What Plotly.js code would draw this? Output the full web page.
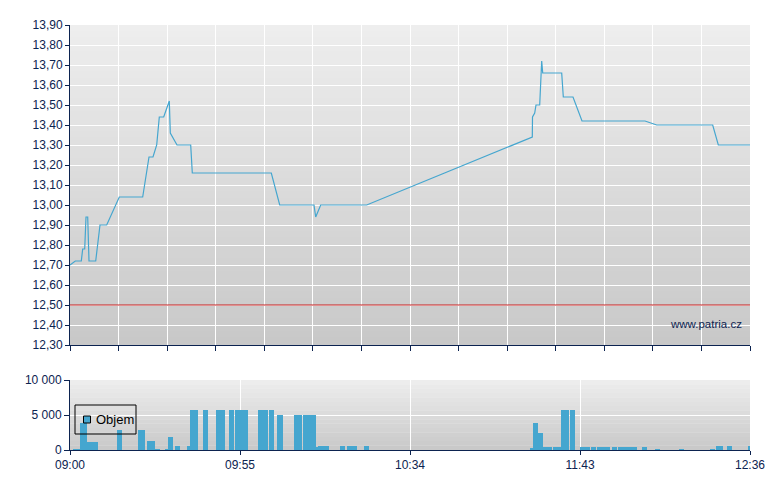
<!DOCTYPE html>
<html>
<head>
<meta charset="utf-8">
<script src="https://cdn.plot.ly/plotly-3.0.1.min.js"></script>
<style>html,body{margin:0;padding:0;background:#fff;}#chart{width:780px;height:490px;}</style>
</head>
<body>
<div id="chart"></div>
<script>
// Session position (non-linear trading time axis, 0..136)
const priceX = [0, 1.06, 2.26, 2.54, 2.94, 3.2, 3.54, 3.8, 5.14, 6.0, 7.34, 9.86, 14.54, 15.8, 16.6, 17.34, 17.86, 18.74, 19.86, 20.06, 21.4, 24.14, 24.46, 40.26, 41.94, 48.8, 49.14, 50.14, 59.34, 92.46, 92.5, 92.94, 93.2, 93.94, 94.34, 94.54, 98.34, 98.66, 100.6, 102.4, 115.0, 117.34, 128.54, 129.66, 136];
const priceY = [12.70, 12.72, 12.72, 12.78, 12.78, 12.94, 12.94, 12.72, 12.72, 12.90, 12.90, 13.04, 13.04, 13.24, 13.24, 13.30, 13.44, 13.44, 13.52, 13.36, 13.30, 13.30, 13.16, 13.16, 13.00, 13.00, 12.94, 13.00, 13.00, 13.34, 13.44, 13.46, 13.50, 13.50, 13.72, 13.66, 13.66, 13.54, 13.54, 13.42, 13.42, 13.40, 13.40, 13.30, 13.30];
const refPrice = 12.50;

const volX = [1.17, 1.5, 2.5, 2.9, 3.9, 4.5, 5.04, 9.9, 14.1, 14.5, 15.9, 16.5, 17.5, 19.5, 20.1, 21.5, 23.8, 24.5, 25.1, 27.1, 29.7, 30.5, 32.3, 33.5, 34.3, 35.1, 38.1, 39.1, 40.3, 41.9, 42.1, 45.3, 45.9, 47.1, 47.9, 48.7, 49.7, 50.1, 50.9, 51.3, 54.5, 55.9, 56.9, 59.3, 92.5, 93.1, 94.1, 94.9, 95.9, 97.1, 97.7, 98.7, 99.3, 100.5, 102.5, 103.5, 104.7, 105.9, 106.9, 107.5, 108.9, 110.1, 111.1, 112.1, 112.9, 114.9, 117.5, 122.3, 128.5, 129.7, 130.1, 131.9, 136];
const volY = [150, 150, 3900, 3900, 1150, 1150, 1150, 2860, 2860, 2860, 1290, 1290, 140, 100, 1860, 570, 570, 5710, 5710, 5710, 5710, 5710, 5710, 5710, 5710, 5710, 5710, 5710, 5710, 5000, 5000, 5000, 5000, 5000, 5000, 5000, 430, 570, 570, 570, 570, 570, 570, 570, 290, 3900, 2480, 430, 430, 430, 430, 5710, 5710, 5710, 430, 430, 430, 430, 430, 430, 430, 430, 430, 430, 430, 430, 140, 140, 140, 570, 570, 570, 570];

const timeTickPos = [0, 34, 68, 102, 136];
const timeTickText = ['09:00', '09:55', '10:34', '11:43', '12:36'];
const volTickVals = [0, 5000, 10000];
const volTickText = ['0', '5 000', '10 000'];
const seriesName = 'Objem';
const watermark = 'www.patria.cz';

const navy = '#0c2350';
const blue = '#45a6cf';
const font = 'Liberation Sans, Arial, sans-serif';

// gradient background bands
const shapes = [];
function gradient(xr, yr, top, bottom, n) {
  for (let i = 0; i < n; i++) {
    const t = (i + 0.5) / n;
    const c = Math.round(top + (bottom - top) * t);
    shapes.push({type: 'rect', xref: xr, yref: yr, x0: 0, x1: 1, y0: 1 - (i + 1) / n, y1: Math.min(1, 1 - i / n + 0.002),
      fillcolor: `rgb(${c},${c},${c})`, line: {width: 0}, layer: 'below'});
  }
}
gradient('x domain', 'y domain', 238, 200, 48);
gradient('x2 domain', 'y2 domain', 238, 200, 16);
// reference price line
shapes.push({type: 'line', xref: 'paper', yref: 'y', x0: 0, x1: 1, y0: refPrice, y1: refPrice,
  line: {color: '#c41e1e', width: 1}, layer: 'above'});
// legend frame and swatch (volume panel)
shapes.push({type: 'rect', xref: 'paper', yref: 'paper', x0: 5 / 680, x1: 66 / 680, y0: 16 / 425, y1: 45 / 425,
  line: {color: '#000', width: 1}, fillcolor: 'rgba(0,0,0,0)', layer: 'above'});
shapes.push({type: 'rect', xref: 'paper', yref: 'paper', x0: 13.5 / 680, x1: 20.5 / 680, y0: 27 / 425, y1: 34 / 425,
  line: {color: '#000', width: 1}, fillcolor: blue, layer: 'above'});

const traces = [
  {type: 'scatter', mode: 'lines', x: priceX, y: priceY, xaxis: 'x', yaxis: 'y',
   line: {color: blue, width: 1.2}, showlegend: false, hoverinfo: 'skip'},
  {type: 'bar', x: volX, y: volY, xaxis: 'x2', yaxis: 'y2', width: 1, name: seriesName,
   marker: {color: blue, line: {width: 0}}, showlegend: false, hoverinfo: 'skip'}
];

const axBase = {showline: true, linecolor: navy, linewidth: 1, ticks: 'outside', tickcolor: navy,
  ticklen: 5, tickwidth: 1, gridcolor: '#ffffff', gridwidth: 1, zeroline: false,
  tickfont: {family: font, size: 11, color: navy}, fixedrange: true};

const layout = {
  width: 780, height: 490,
  margin: {l: 70, r: 30, t: 25, b: 40},
  paper_bgcolor: '#ffffff', plot_bgcolor: 'rgba(0,0,0,0)',
  separators: ', ',
  font: {family: font, color: navy},
  showlegend: false,
  bargap: 0,
  xaxis: Object.assign({}, axBase, {range: [0, 136], anchor: 'y', tickmode: 'linear', tick0: 0, dtick: 136 / 14,
    showticklabels: false}),
  yaxis: Object.assign({}, axBase, {domain: [1 - 320 / 425, 1], range: [12.30, 13.90], tickmode: 'linear',
    tick0: 12.30, dtick: 0.1, tickformat: '.2f', ticklen: 4, tickfont: {family: font, size: 12, color: navy}}),
  xaxis2: Object.assign({}, axBase, {range: [0, 136], anchor: 'y2', tickmode: 'array', ticklen: 4,
    tickvals: timeTickPos, ticktext: timeTickText, tickfont: {family: font, size: 12, color: navy}}),
  yaxis2: Object.assign({}, axBase, {domain: [0, 70 / 425], range: [0, 10000], anchor: 'x2', tickmode: 'array',
    tickvals: volTickVals, ticktext: volTickText, tickfont: {family: font, size: 12, color: navy}}),
  shapes: shapes,
  annotations: [
    {text: watermark, xref: 'paper', yref: 'paper', x: 674 / 680, y: 126 / 425,
     xanchor: 'right', yanchor: 'middle', showarrow: false, font: {family: font, size: 11.5, color: navy}},
    {text: seriesName, xref: 'paper', yref: 'paper', x: 24 / 680, y: 30.5 / 425,
     xanchor: 'left', yanchor: 'middle', showarrow: false, font: {family: font, size: 13, color: '#000'}}
  ],
  hovermode: false
};

Plotly.newPlot('chart', traces, layout, {displayModeBar: false, staticPlot: true});
</script>
</body>
</html>
